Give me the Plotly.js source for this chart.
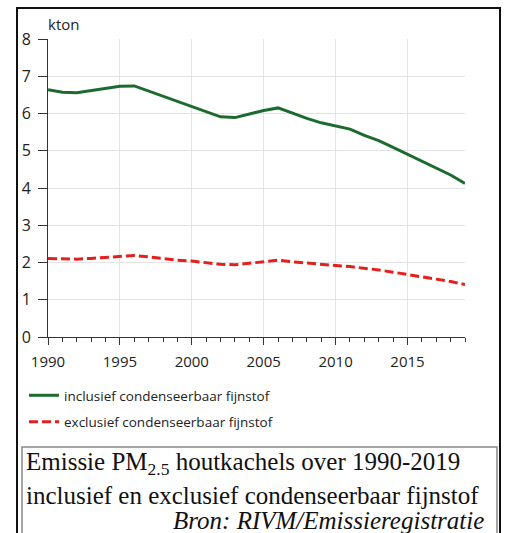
<!DOCTYPE html>
<html><head><meta charset="utf-8">
<script src="https://cdn.plot.ly/plotly-3.0.1.min.js"></script>
<style>html,body{margin:0;padding:0;background:#fff}#chart{width:505px;height:533px}</style>
</head><body><div id="chart"></div>
<script>
const years = [1990,1991,1992,1993,1994,1995,1996,1997,1998,1999,2000,2001,2002,2003,2004,2005,2006,2007,2008,2009,2010,2011,2012,2013,2014,2015,2016,2017,2018,2019];
const inclusief = [6.64,6.57,6.56,6.61,6.67,6.73,6.74,6.60,6.46,6.33,6.19,6.05,5.91,5.89,5.99,6.08,6.15,6.00,5.87,5.75,5.67,5.58,5.41,5.27,5.09,4.90,4.72,4.53,4.35,4.12];
const exclusief = [2.11,2.09,2.09,2.11,2.14,2.17,2.19,2.15,2.10,2.06,2.04,2.00,1.95,1.94,1.98,2.03,2.06,2.02,1.98,1.94,1.92,1.89,1.85,1.80,1.74,1.68,1.61,1.55,1.49,1.41];
const seriesNames = ['inclusief condenseerbaar fijnstof','exclusief condenseerbaar fijnstof'];
const yTicks = [0,1,2,3,4,5,6,7,8];
const xTicks = [1990,1995,2000,2005,2010,2015];
const unitLabel = 'kton';
const captionLines = ['Emissie PM<sub>2.5</sub> houtkachels over 1990-2019','inclusief en exclusief condenseerbaar fijnstof','<i>Bron: RIVM/Emissieregistratie</i>'];

const W=505,H=533,M={l:48,r:40,t:39,b:196};
const pw=W-M.l-M.r, ph=H-M.t-M.b;
const px=x=>(x-M.l)/pw, py=y=>1-(y-M.t)/ph;
const sans='"Open Sans", "Noto Sans", sans-serif';
const serif='"Liberation Serif", "Times New Roman", serif';

const traces=[
 {x:years,y:inclusief,name:seriesNames[0],type:'scatter',mode:'lines',line:{color:'#1d6a2f',width:3},legendgroup:'a'},
 {x:years,y:exclusief,name:seriesNames[1],type:'scatter',mode:'lines',line:{color:'#e3201c',width:3,dash:'9px,4px'},legendgroup:'b'}
];
const layout={
 width:W,height:H,margin:M,paper_bgcolor:'#fff',plot_bgcolor:'#fff',
 font:{family:sans,size:13,color:'#222'},
 xaxis:{range:[1990,2019],tickvals:xTicks,ticks:'outside',ticklen:7,tickcolor:'#333',
   showgrid:true,gridcolor:'#e3e3e3',showline:true,linecolor:'#333',linewidth:1,zeroline:false,
   tickfont:{family:sans,size:15,color:'#222'},ticklabelstandoff:4,
   minor:{dtick:1,tick0:1990,ticks:'outside',ticklen:4,tickcolor:'#333',showgrid:false},fixedrange:true},
 yaxis:{range:[0,8],tickvals:yTicks,ticks:'outside',ticklen:9,tickcolor:'#333',ticklabelstandoff:4,
   showgrid:true,gridcolor:'#e3e3e3',showline:true,linecolor:'#333',linewidth:1,zeroline:false,
   tickfont:{family:sans,size:16,color:'#222'},fixedrange:true},
 showlegend:true,
 legend:{x:px(24),y:py(380),xanchor:'left',yanchor:'top',font:{family:sans,size:13.5,color:'#222'},
   tracegroupgap:6,bgcolor:'rgba(0,0,0,0)'},
 annotations:[
  {xref:'paper',yref:'paper',x:px(46),y:py(24),xanchor:'left',yanchor:'middle',text:unitLabel,showarrow:false,font:{family:sans,size:15,color:'#222'}},
  {xref:'paper',yref:'paper',x:px(24),y:py(463),xanchor:'left',yanchor:'middle',text:captionLines[0],showarrow:false,font:{family:serif,size:25,color:'#111'}},
  {xref:'paper',yref:'paper',x:px(24),y:py(495),xanchor:'left',yanchor:'middle',text:captionLines[1],showarrow:false,font:{family:serif,size:25,color:'#111'}},
  {xref:'paper',yref:'paper',x:px(486),y:py(520),xanchor:'right',yanchor:'middle',text:captionLines[2],showarrow:false,font:{family:serif,size:25,color:'#111'}}
 ],
 shapes:[
  {type:'rect',xref:'paper',yref:'paper',x0:px(17),x1:px(500),y0:py(8),y1:py(540),line:{color:'#111',width:2},fillcolor:'rgba(0,0,0,0)'},
  {type:'rect',xref:'paper',yref:'paper',x0:px(22),x1:px(497),y0:py(447),y1:py(540),line:{color:'#888',width:1.5},fillcolor:'rgba(0,0,0,0)'}
 ]
};
Plotly.newPlot('chart',traces,layout,{staticPlot:true,displayModeBar:false});
</script></body></html>
